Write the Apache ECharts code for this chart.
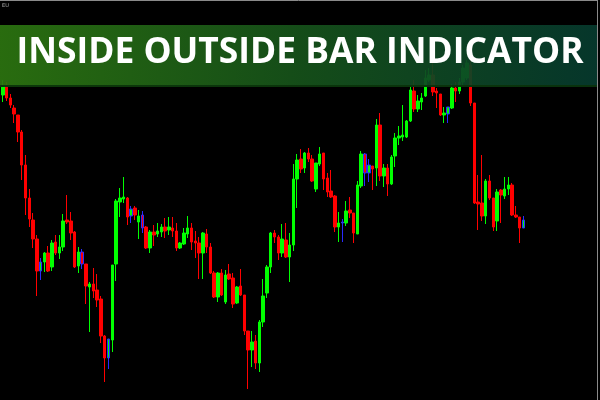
<!DOCTYPE html>
<html>
<head>
<meta charset="utf-8">
<script src="https://cdn.jsdelivr.net/npm/echarts@6/dist/echarts.min.js"></script>
<style>html,body{margin:0;padding:0;background:#000;}#c{width:600px;height:400px;}</style>
</head>
<body>
<div id="c"></div>
<script>
// Prices in pips above a base price
const openP = [305,314,302,292,285,268,235,202,180,161,129,138,147,133,158,147,153,180,179,168,134,148,136,113,116,110,101,64,42,60,136,198,201,202,184,192,178,185,173,152,168,166,168,173,170,172,169,152,156,166,172,159,157,147,166,153,127,103,127,98,126,122,97,114,105,69,50,59,37,78,107,133,167,163,147,160,143,155,221,241,232,247,241,211,236,247,222,209,204,173,177,177,190,187,166,214,246,227,234,232,275,224,232,216,244,262,263,263,279,309,291,298,304,320,325,309,306,285,286,292,312,309,318,322,335,297,198,197,184,219,202,179,210,204,211,215,185,183,172];
const closeP = [314,302,295,286,268,235,202,181,161,129,138,147,129,157,147,153,179,178,167,133,148,136,114,116,109,100,64,42,61,135,199,202,203,183,191,185,184,172,152,168,165,169,173,169,173,169,152,157,167,172,158,157,147,167,153,127,103,127,105,125,121,96,113,105,69,50,58,37,78,104,133,167,163,147,161,143,155,221,240,231,247,241,219,237,246,221,208,203,173,177,178,189,187,167,215,246,227,235,231,275,224,232,216,243,262,264,265,279,310,291,299,302,322,325,308,307,285,287,293,312,309,318,332,337,297,197,196,184,219,202,173,208,205,211,215,185,183,172,180];
const lowP = [298,299,292,277,258,220,185,173,152,104,120,128,128,129,145,141,149,176,160,132,127,131,96,68,102,93,57,18,31,48,119,183,197,175,177,180,161,167,151,147,154,163,163,162,165,163,149,151,155,162,150,142,121,121,147,126,102,98,104,96,120,92,96,104,65,11,33,31,28,73,102,127,157,140,143,142,118,149,192,227,227,238,218,208,234,210,203,202,168,158,158,174,182,157,166,212,214,218,210,214,219,213,204,215,233,255,259,262,278,288,288,290,303,318,304,292,284,277,277,291,298,306,315,320,294,196,170,179,176,200,169,169,177,201,205,184,182,157,172];
const highP = [320,318,306,295,285,270,245,211,187,165,142,148,154,160,165,165,186,205,188,169,153,151,136,118,132,126,104,65,61,135,201,212,223,203,194,194,190,189,174,170,175,177,176,182,183,183,177,158,172,184,177,169,163,168,171,157,129,128,131,130,136,127,114,131,105,69,69,65,80,121,135,168,170,165,176,177,167,236,246,251,248,252,245,237,253,247,227,230,205,188,181,199,203,187,219,249,247,241,234,281,287,236,236,245,267,274,295,280,313,320,305,307,330,332,337,312,306,293,293,316,318,322,335,340,340,297,225,245,221,225,202,211,211,223,223,217,194,183,184];
// Bars flagged by the inside/outside bar indicator (1-based bar numbers)
const flaggedBars = [11,22,29,35,38,91,97,98,119,139];
const totalSlots = 158;
const title = 'INSIDE OUTSIDE BAR INDICATOR';
const symbolLabel = 'EU';

const cats = [];
for (let i = 0; i < totalSlots; i++) cats.push(String(i + 1));
const data = openP.map((o, i) => {
  const item = {value: [o, closeP[i], lowP[i], highP[i]]};
  if (flaggedBars.indexOf(i + 1) >= 0) {
    item.itemStyle = {borderColor: '#2a2aff', borderColor0: '#2a2aff'};
  }
  return item;
});

// fit title width
const cv = document.createElement('canvas').getContext('2d');
cv.font = 'bold 36px "Open Sans"';
const tw = cv.measureText(title).width;
const sx = 567 / tw;

const chart = echarts.init(document.getElementById('c'), null, {renderer: 'canvas'});
chart.setOption({
  backgroundColor: '#000000',
  animation: false,
  grid: {left: 1, right: 3, top: 0, bottom: 0},
  xAxis: {type: 'category', data: cats, boundaryGap: true, show: false},
  yAxis: {type: 'value', min: 0, max: 400, show: false, splitLine: {show: false}},
  series: [{
    type: 'candlestick',
    barWidth: 3,
    data: data,
    itemStyle: {color: '#00ff00', color0: '#ff0000', borderColor: '#00ff00', borderColor0: '#ff0000', borderWidth: 1}
  }],
  graphic: [
    {type: 'line', shape: {x1: 0, y1: 0.5, x2: 597, y2: 0.5}, style: {stroke: '#8a8a8a', lineWidth: 1}, z: 10},
    {type: 'line', shape: {x1: 597.5, y1: 0, x2: 597.5, y2: 400}, style: {stroke: '#8a8a8a', lineWidth: 1}, z: 10},
    {type: 'text', left: 2, top: 3, style: {text: symbolLabel, fill: '#b0b0b0', font: '5px "DejaVu Sans"'}, z: 10},
    {type: 'rect', shape: {x: 0, y: 25, width: 597, height: 62},
      style: {fill: new echarts.graphic.LinearGradient(0, 0, 1, 0, [
        {offset: 0, color: 'rgba(44,116,16,0.93)'},
        {offset: 0.5, color: 'rgba(22,82,26,0.93)'},
        {offset: 1, color: 'rgba(6,58,46,0.93)'}])}, z: 20},
    {type: 'line', shape: {x1: 0, y1: 86, x2: 597, y2: 86}, style: {stroke: 'rgba(10,50,10,0.9)', lineWidth: 2}, z: 21},
    {type: 'text', x: 300, y: 53, scaleX: sx, scaleY: 1, originX: 0, originY: 0,
      style: {text: title, fill: '#ffffff', font: 'bold 36px "Open Sans"', textAlign: 'center', textVerticalAlign: 'middle'}, z: 22}
  ]
});
</script>
</body>
</html>
